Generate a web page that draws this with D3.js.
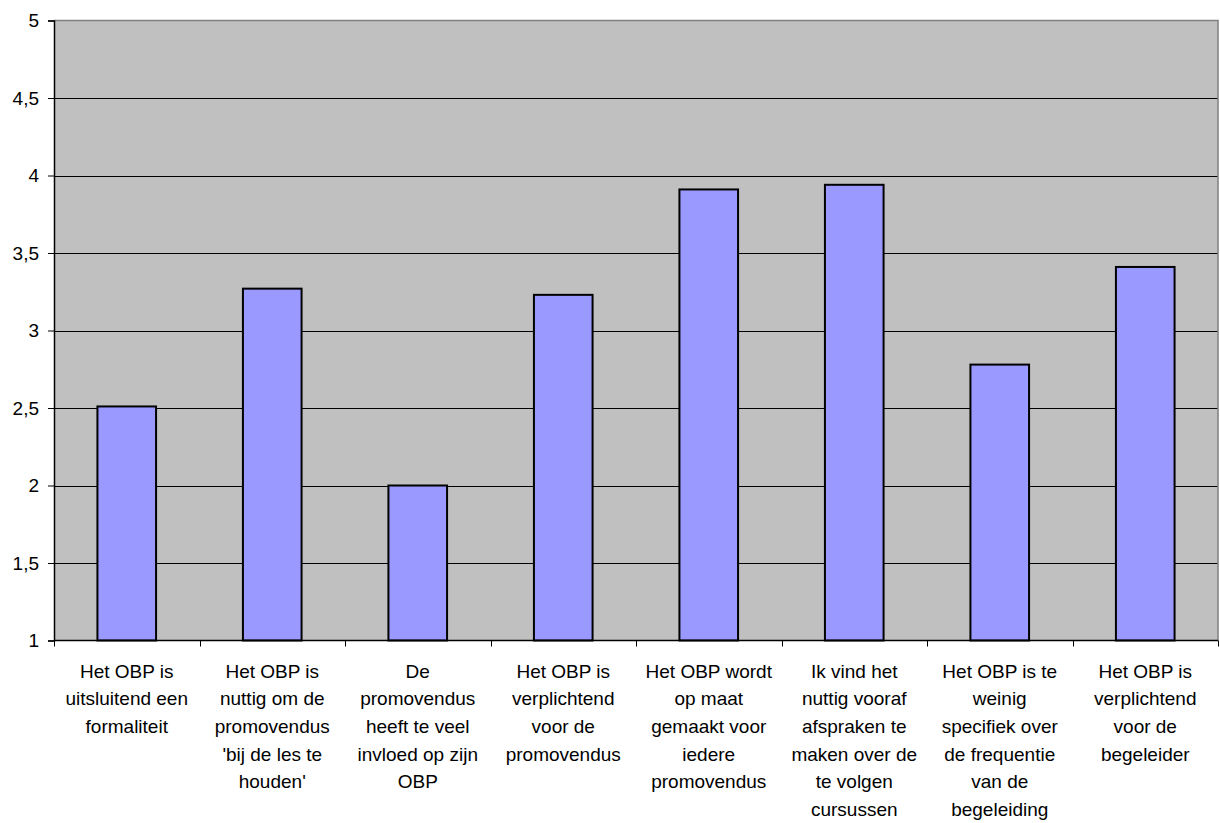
<!DOCTYPE html>
<html>
<head>
<meta charset="utf-8">
<script src="https://cdn.jsdelivr.net/npm/d3@7"></script>
<style>
  html, body { margin: 0; padding: 0; background: #ffffff; }
  svg { display: block; }
  text { font-family: "Liberation Sans", Arial, sans-serif; fill: #000; }
</style>
</head>
<body>
<svg id="chart" width="1220" height="823"></svg>
<script>
// Statements (each wrapped as it is printed under the axis)
const categories = [
  ["Het OBP is", "uitsluitend een", "formaliteit"],
  ["Het OBP is", "nuttig om de", "promovendus", "'bij de les te", "houden'"],
  ["De", "promovendus", "heeft te veel", "invloed op zijn", "OBP"],
  ["Het OBP is", "verplichtend", "voor de", "promovendus"],
  ["Het OBP wordt", "op maat", "gemaakt voor", "iedere", "promovendus"],
  ["Ik vind het", "nuttig vooraf", "afspraken te", "maken over de", "te volgen", "cursussen"],
  ["Het OBP is te", "weinig", "specifiek over", "de frequentie", "van de", "begeleiding"],
  ["Het OBP is", "verplichtend", "voor de", "begeleider"]
];

// Mean score per statement
const values = [2.51, 3.27, 2.00, 3.23, 3.91, 3.94, 2.78, 3.41];

// Value axis ticks
const yTicks = [1, 1.5, 2, 2.5, 3, 3.5, 4, 4.5, 5];
const yTickLabels = ["1", "1,5", "2", "2,5", "3", "3,5", "4", "4,5", "5"];

const svg = d3.select("#chart");
const plot = { left: 54, right: 1218, top: 20.5, bottom: 640.5 };

const x = d3.scaleBand()
  .domain(d3.range(categories.length))
  .range([plot.left, plot.right])
  .padding(0);

const y = d3.scaleLinear()
  .domain([1, 5])
  .range([plot.bottom, plot.top]);

// Plot area background
svg.append("rect")
  .attr("x", plot.left)
  .attr("y", plot.top)
  .attr("width", plot.right - plot.left)
  .attr("height", plot.bottom - plot.top)
  .attr("fill", "#c0c0c0");

// Horizontal gridlines
svg.append("g")
  .selectAll("line")
  .data(yTicks.filter(t => t > 1 && t < 5))
  .join("line")
  .attr("x1", plot.left)
  .attr("x2", plot.right)
  .attr("y1", d => Math.round(y(d)) + 0.5)
  .attr("y2", d => Math.round(y(d)) + 0.5)
  .attr("stroke", "#000")
  .attr("stroke-width", 1);

// Top and right frame of the plot area
svg.append("path")
  .attr("d", `M${plot.left},${plot.top}H${plot.right}V${plot.bottom}`)
  .attr("fill", "none")
  .attr("stroke", "#808080")
  .attr("stroke-width", 1.5);

// Bars
const barFrac = 0.403;
svg.append("g")
  .selectAll("rect")
  .data(values)
  .join("rect")
  .attr("x", (d, i) => x(i) + x.bandwidth() * (1 - barFrac) / 2)
  .attr("y", d => y(d))
  .attr("width", x.bandwidth() * barFrac)
  .attr("height", d => y(1) - y(d))
  .attr("fill", "#9999ff")
  .attr("stroke", "#000")
  .attr("stroke-width", 2);

// Y axis
const yAxis = d3.axisLeft(y)
  .tickValues(yTicks)
  .tickFormat((d, i) => yTickLabels[i])
  .tickSize(6)
  .tickPadding(9);

const gy = svg.append("g")
  .attr("transform", `translate(${plot.left},0)`)
  .call(yAxis);
gy.select(".domain").attr("stroke", "#000").attr("stroke-width", 1.5);
gy.selectAll(".tick line").attr("stroke", "#000");
gy.selectAll(".tick text")
  .attr("font-size", 19)
  .attr("font-family", "Liberation Sans, Arial, sans-serif")
  .attr("fill", "#000");

// X axis: ticks at category boundaries
const boundaries = d3.range(categories.length + 1)
  .map(i => i < categories.length ? x(i) : x(i - 1) + x.bandwidth());
const gx = svg.append("g");
gx.append("line")
  .attr("x1", plot.left)
  .attr("x2", plot.right)
  .attr("y1", plot.bottom)
  .attr("y2", plot.bottom)
  .attr("stroke", "#000")
  .attr("stroke-width", 1.5);
gx.selectAll("line.tick")
  .data(boundaries)
  .join("line")
  .attr("class", "tick")
  .attr("x1", d => Math.round(d) + 0.5)
  .attr("x2", d => Math.round(d) + 0.5)
  .attr("y1", plot.bottom)
  .attr("y2", plot.bottom + 6)
  .attr("stroke", "#000");

// Category labels
const lineHeight = 27.7;
const firstBaseline = 677.5;
const labels = svg.append("g")
  .selectAll("text")
  .data(categories)
  .join("text")
  .attr("text-anchor", "middle")
  .attr("font-size", 19)
  .attr("x", (d, i) => x(i) + x.bandwidth() / 2)
  .attr("y", firstBaseline);
labels.selectAll("tspan")
  .data((d, i) => d.map(line => ({ line, cx: x(i) + x.bandwidth() / 2 })))
  .join("tspan")
  .attr("x", d => d.cx)
  .attr("y", (d, j) => firstBaseline + j * lineHeight)
  .text(d => d.line);
</script>
</body>
</html>
